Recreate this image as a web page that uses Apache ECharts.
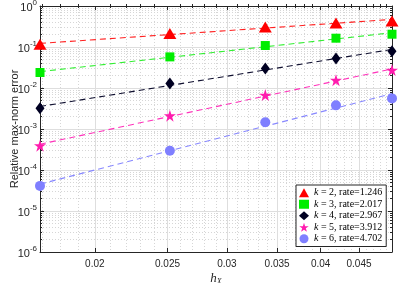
<!DOCTYPE html>
<html><head><meta charset="utf-8">
<script src="https://cdn.jsdelivr.net/npm/echarts@6/dist/echarts.min.js"></script>
<style>html,body{margin:0;padding:0;background:#fff}#c{width:399px;height:283px}</style>
</head><body><div id="c"></div>
<script>
// ---- data ----
const hX = [0.0169, 0.02518, 0.03375, 0.04193, 0.0498];
const errK2 = [0.117, 0.213, 0.308, 0.386, 0.431];
const errK3 = [0.0239, 0.0574, 0.1086, 0.164, 0.205];
const errK4 = [0.00319, 0.01294, 0.0300, 0.0525, 0.0791];
const errK5 = [3.92e-4, 2.11e-3, 6.72e-3, 0.01556, 0.0273];
const errK6 = [4.1e-5, 2.96e-4, 1.455e-3, 3.77e-3, 5.58e-3];
const kValues = [2, 3, 4, 5, 6];
const rates = [1.246, 2.017, 2.967, 3.912, 4.702];
const xTickLabels = [0.02, 0.025, 0.03, 0.035, 0.04, 0.045];
const yTickExponents = [-6, -5, -4, -3, -2, -1, 0];
const xRange = [0.0169, 0.0498];

const errs = [errK2, errK3, errK4, errK5, errK6];
const colors = ['#ff0000', '#00ee00', '#000022', '#ff1cae', '#7f7fff'];
const lineColors = ['#ff2020', '#33ee33', '#101030', '#ff33bb', '#8888ff'];
const starPath = 'path://M0,-1 L0.2245,-0.309 L0.951,-0.309 L0.363,0.118 L0.588,0.809 L0,0.382 L-0.588,0.809 L-0.363,0.118 L-0.951,-0.309 L-0.2245,-0.309 Z';
const symbols = ['triangle', 'rect', 'diamond', starPath, 'circle'];
const symSizes = [[13, 11], [9, 9], [9, 12], [12, 12], [10, 10]];

const L = Math.log10;
const xmin = L(xRange[0]), xmax = L(xRange[1]);
const xMajor = xTickLabels.map(L);
const xMinor = [];
for (let i = 17; i <= 49; i++) { const v = i / 1000; if (!xTickLabels.some(t => Math.abs(t - v) < 1e-9)) xMinor.push(L(v)); }
const yMinor = [];
for (let e = -6; e < 0; e++) for (let m = 2; m <= 9; m++) yMinor.push(L(m * Math.pow(10, e)));

const series = [];
const legendData = [];
errs.forEach((ev, i) => {
  const name = 'k' + kValues[i];
  const pts = hX.map((h, j) => [L(h), L(ev[j])]);
  // fit line with the reported rate, intercept by least squares
  let c = 0; pts.forEach(p => { c += p[1] - rates[i] * p[0]; }); c /= pts.length;
  series.push({
    type: 'line', xAxisIndex: 0, yAxisIndex: 0, silent: true, symbol: 'none',
    data: [[xmin, c + rates[i] * xmin], [xmax, c + rates[i] * xmax]],
    lineStyle: { color: lineColors[i], width: 1.1, type: [6, 4] }, z: 3
  });
  series.push({
    name, type: 'scatter', xAxisIndex: 0, yAxisIndex: 0, data: pts,
    symbol: symbols[i], symbolSize: symSizes[i],
    itemStyle: { color: colors[i], opacity: 1 }, z: 4
  });
  legendData.push({ name, icon: symbols[i], itemStyle: { color: colors[i] } });
});

const tickColor = '#262626';
const font = 'Liberation Sans, Arial, sans-serif';
const hidden = { show: false };

const chart = echarts.init(document.getElementById('c'), null, { renderer: 'canvas' });
chart.setOption({
  animation: false,
  backgroundColor: '#fff',
  grid: { left: 40, top: 6, width: 352, height: 246, containLabel: false, outerBoundsMode: 'none' },
  legend: {
    orient: 'vertical', left: 296, top: 185,
    data: legendData,
    itemWidth: 10, itemHeight: 9, itemGap: 0,
    padding: [2, 4, 2, 3],
    backgroundColor: '#fff', borderColor: '#262626', borderWidth: 1, borderRadius: 0,
    selectedMode: false,
    formatter: n => { const i = legendData.findIndex(d => d.name === n); return '{i|k} = ' + kValues[i] + ', rate=' + rates[i].toFixed(3); },
    textStyle: { fontFamily: 'Liberation Serif, serif', fontSize: 10, color: '#000', lineHeight: 11.5,
      rich: { i: { fontStyle: 'italic', fontFamily: 'Liberation Serif, serif', fontSize: 10, lineHeight: 11.5 } } }
  },
  xAxis: [
    { type: 'value', position: 'bottom', min: xmin, max: xmax,
      name: '{h|h}{s|X}', nameLocation: 'middle', nameGap: 20, nameMoveOverlap: false,
      nameTextStyle: { rich: { h: { fontFamily: 'Liberation Serif, serif', fontStyle: 'italic', fontSize: 13, color: tickColor },
        s: { fontFamily: 'Liberation Serif, serif', fontStyle: 'italic', fontSize: 8, color: tickColor, verticalAlign: 'bottom', padding: [6, 0, 0, 0] } } },
      axisLine: { show: true, onZero: false, lineStyle: { color: tickColor, width: 1 } },
      axisTick: { show: true, inside: true, length: 4, customValues: xMajor, lineStyle: { color: tickColor } },
      axisLabel: { show: true, customValues: xMajor, margin: 7, fontFamily: font, fontSize: 10, color: tickColor,
        formatter: v => String(+Math.pow(10, v).toFixed(3)) },
      splitLine: { show: true, lineStyle: { color: '#dedede', width: 1 } }
    },
    { type: 'value', position: 'bottom', min: xmin, max: xmax,
      axisLine: hidden, axisLabel: hidden,
      axisTick: { show: true, inside: true, length: 2, customValues: xMinor, lineStyle: { color: tickColor } },
      splitLine: { show: true, lineStyle: { color: '#d6d6d6', width: 1, type: [1, 2] } }
    },
    { type: 'value', position: 'top', min: xmin, max: xmax,
      axisLine: { show: true, onZero: false, lineStyle: { color: tickColor, width: 1 } }, axisLabel: hidden,
      axisTick: { show: true, inside: true, length: 4, customValues: xMajor, lineStyle: { color: tickColor } },
      splitLine: hidden
    },
    { type: 'value', position: 'top', min: xmin, max: xmax,
      axisLine: hidden, axisLabel: hidden,
      axisTick: { show: true, inside: true, length: 2, customValues: xMinor, lineStyle: { color: tickColor } },
      splitLine: hidden
    }
  ],
  yAxis: [
    { type: 'value', position: 'left', min: -6, max: 0, interval: 1,
      name: 'Relative max-norm error', nameLocation: 'middle', nameGap: 20, nameMoveOverlap: false,
      nameTextStyle: { fontFamily: font, fontSize: 11, color: tickColor },
      axisLine: { show: true, onZero: false, lineStyle: { color: tickColor, width: 1 } },
      axisTick: { show: true, inside: true, length: 4, lineStyle: { color: tickColor } },
      axisLabel: { show: true, margin: 3, showMinLabel: true, showMaxLabel: true,
        formatter: v => '{b|10}{s|' + v + '}',
        rich: { b: { fontFamily: font, fontSize: 11, color: tickColor, lineHeight: 15, verticalAlign: 'bottom' },
                s: { fontFamily: font, fontSize: 8, color: tickColor, lineHeight: 15, verticalAlign: 'top' } } },
      splitLine: { show: true, lineStyle: { color: '#dedede', width: 1 } }
    },
    { type: 'value', position: 'left', min: -6, max: 0,
      axisLine: hidden, axisLabel: hidden,
      axisTick: { show: true, inside: true, length: 2, customValues: yMinor, lineStyle: { color: tickColor } },
      splitLine: { show: true, lineStyle: { color: '#d6d6d6', width: 1, type: [1, 2] } }
    },
    { type: 'value', position: 'right', min: -6, max: 0, interval: 1,
      axisLine: { show: true, onZero: false, lineStyle: { color: tickColor, width: 1 } }, axisLabel: hidden,
      axisTick: { show: true, inside: true, length: 4, lineStyle: { color: tickColor } },
      splitLine: hidden
    },
    { type: 'value', position: 'right', min: -6, max: 0,
      axisLine: hidden, axisLabel: hidden,
      axisTick: { show: true, inside: true, length: 2, customValues: yMinor, lineStyle: { color: tickColor } },
      splitLine: hidden
    }
  ],
  series
});
</script></body></html>
